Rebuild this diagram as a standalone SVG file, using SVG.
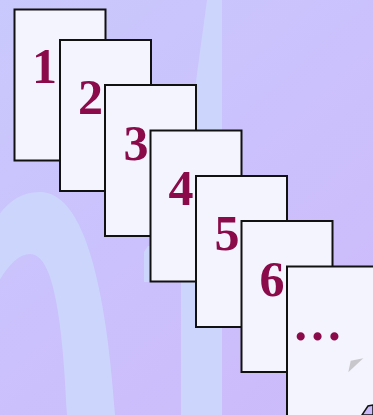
<svg xmlns="http://www.w3.org/2000/svg" width="373" height="415" viewBox="0 0 373 415">
  <defs>
    <linearGradient id="bg" x1="0" y1="0" x2="373" y2="415" gradientUnits="userSpaceOnUse">
      <stop offset="0" stop-color="#c9c9fd"/>
      <stop offset="1" stop-color="#cdb9fb"/>
    </linearGradient>
    <style>
      .card { fill: #f4f4fe; stroke: #111; stroke-width: 2; }
      .num { font-family: "Liberation Serif", "Times New Roman", serif; font-weight: bold; font-size: 50px; fill: #8a0a4a; text-anchor: middle; }
      .deco { fill: #ccd6fd; }
    </style>
  </defs>
  <rect x="0" y="0" width="373" height="415" fill="url(#bg)"/>
  <g id="background">
    <path class="deco" fill-rule="evenodd" d="M 40 192 C 80 192, 105 270, 115 415 L -10 415 L -10 230 C 0 210, 15 192, 40 192 Z M 30 254 C 50 254, 62 300, 67 415 L -10 415 L -10 300 C 0 275, 15 254, 30 254 Z"/>
    <path class="deco" d="M 207 0 L 222 0 L 222 415 L 181 415 L 181 250 C 184 160, 195 90, 207 0 Z"/>
    <path class="deco" d="M 144 282 L 144 252 L 148 246 L 151 246 L 151 282 Z"/>
  </g>
  <g id="card1"><rect class="card" x="14.5" y="9.5" width="91" height="151"/><text class="num" x="44.5" y="83">1</text></g>
  <g id="card2"><rect class="card" x="60" y="40" width="91" height="151"/><text class="num" x="90.5" y="114">2</text></g>
  <g id="card3"><rect class="card" x="105" y="85" width="91" height="151"/><text class="num" x="136" y="160">3</text></g>
  <g id="card4"><rect class="card" x="150.5" y="130.5" width="91" height="151"/><text class="num" x="181" y="205">4</text></g>
  <g id="card5"><rect class="card" x="196" y="176" width="91" height="151"/><text class="num" x="227" y="250">5</text></g>
  <g id="card6"><rect class="card" x="241.5" y="221" width="91" height="151"/><text class="num" x="272" y="296">6</text></g>
  <g id="card7">
    <rect class="card" x="287" y="266.5" width="91" height="160"/>
    <text class="num" x="317.5" y="340">…</text>
    <polygon points="348.3,372.3 363.3,358.3 350.7,360.7" fill="#c8c8cc"/>
    <polygon points="362,415 368,406 373,405 373,415" fill="#c9b9fb" stroke="#111" stroke-width="1.5"/>
  </g>
  <g id="connectors"></g>
</svg>
